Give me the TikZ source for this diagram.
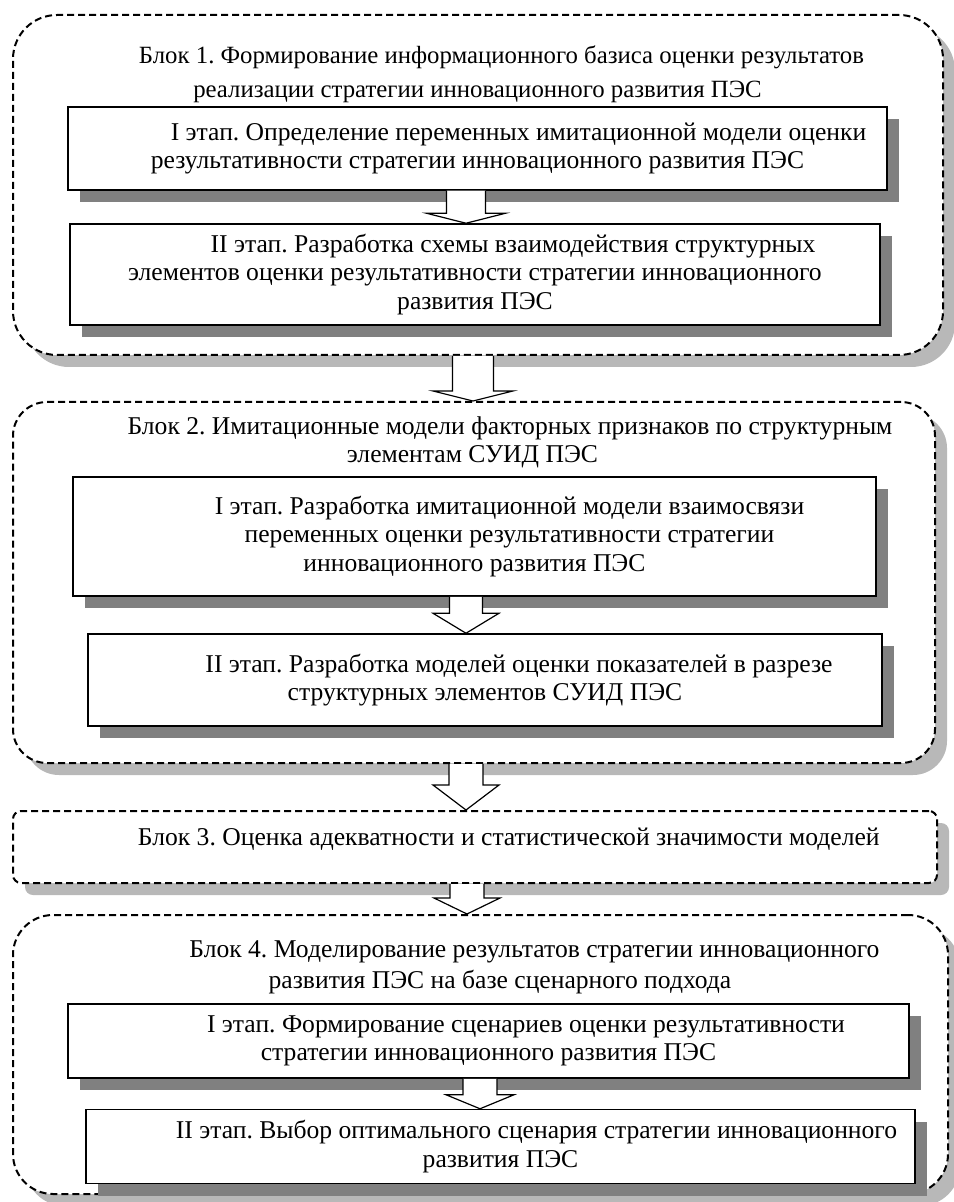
\documentclass[tikz,border=0pt]{standalone}
\usepackage{fontspec}
\setmainfont{Liberation Serif}
\frenchspacing
\usepackage{tikz}
\usetikzlibrary{positioning,shadows,calc}
\definecolor{boxShadow}{HTML}{808080}
\definecolor{blockShadow}{HTML}{B8B8B8}
% hollow block arrow: source, target, axis shift, shaft half width, head half width, head length
\newcommand{\flowarrow}[6]{%
  \path ([xshift=#3]#2.north) coordinate (tip) (tip |- #1.south) coordinate (root);
  \draw[flow] ([xshift=-#4]root) -- ([xshift=-#4,yshift=#6]tip) -- ([xshift=-#5,yshift=#6]tip)
    -- (tip) -- ([xshift=#5,yshift=#6]tip) -- ([xshift=#4,yshift=#6]tip) -- ([xshift=#4]root);
}

\begin{document}
\begin{tikzpicture}[
      x=0.5pt, y=-0.5pt,
      block/.style={draw, fill=white, line width=1pt, dash pattern=on 3.5pt off 2pt,
                    inner sep=0pt,
                    drop shadow={shadow xshift=6pt, shadow yshift=-6pt, fill=blockShadow, opacity=1}},
      stage/.style={draw, fill=white, line width=0.75pt, align=center, inner sep=0pt,
                    font=\fontsize{12.8}{14.25}\selectfont,
                    drop shadow={shadow xshift=6pt, shadow yshift=-6pt, fill=boxShadow, opacity=1}},
      title/.style={align=center, inner sep=0pt},
      flow/.style={draw, fill=white, line width=0.6pt, line join=miter}
    ]
      \useasboundingbox (0,0) rectangle (953,1202);

      % Block 1
      \node[block, rounded corners=22pt, minimum width=465pt, minimum height=170pt] (blk1) at (478, 185) {};
      \node[title, font=\fontsize{12.4}{17}\selectfont] (ttl1) at (477.5, 74) {
        \hspace*{24pt}Блок 1. Формирование информационного базиса оценки результатов \\
        реализации стратегии инновационного развития ПЭС
      };
      \node[stage, minimum width=409.5pt, minimum height=41.5pt] (st1a) at (477.5, 148.5) {
        \hspace*{41pt}I этап. Определение переменных имитационной модели оценки \\
        результативности стратегии инновационного развития ПЭС
      };
      \node[stage, minimum width=405pt, minimum height=50.5pt] (st1b) at (475, 274.5) {
        \hspace*{38pt}II этап. Разработка схемы взаимодействия структурных \\
        элементов оценки результативности стратегии инновационного \\
        развития ПЭС
      };

      % Block 2
      \node[block, rounded corners=17pt, minimum width=461pt, minimum height=180.5pt] (blk2) at (474, 582.5) {};
      \node[title, font=\fontsize{12.8}{14}\selectfont] (ttl2) at (472.5, 442) {
        \hspace*{37.5pt}Блок 2. Имитационные модели факторных признаков по структурным \\
        элементам СУИД ПЭС
      };
      \node[stage, minimum width=401.5pt, minimum height=59.5pt] (st2a) at (474.5, 536.5) {
        \hspace*{35pt}I этап. Разработка имитационной модели взаимосвязи \\
        \hspace*{35pt}переменных оценки результативности стратегии \\
        инновационного развития ПЭС
      };
      \node[stage, minimum width=397pt, minimum height=46pt] (st2b) at (485, 680) {
        \hspace*{34pt}II этап. Разработка моделей оценки показателей в разрезе \\
        структурных элементов СУИД ПЭС
      };

      % Block 3
      \node[block, rounded corners=4pt, minimum width=462pt, minimum height=36pt] (blk3) at (475, 847) {};
      \node[title, anchor=base, font=\fontsize{12.8}{14}\selectfont] (ttl3) at (512, 845) {
        Блок 3. Оценка адекватности и статистической значимости моделей
      };

      % Block 4
      \node[block, rounded corners=20pt, minimum width=467.5pt, minimum height=139.5pt] (blk4) at (480.5, 1054.5) {};
      \node[title, font=\fontsize{12.8}{15.5}\selectfont] (ttl4) at (500, 967.5) {
        \hspace*{34.5pt}Блок 4. Моделирование результатов стратегии инновационного \\
        развития ПЭС на базе сценарного подхода
      };
      \node[stage, minimum width=420.5pt, minimum height=37pt] (st4a) at (488.5, 1041) {
        \hspace*{37.5pt}I этап. Формирование сценариев оценки результативности \\
        стратегии инновационного развития ПЭС
      };
      \node[stage, minimum width=414.5pt, minimum height=37pt] (st4b) at (500.5, 1146.5) {
        \hspace*{36pt}II этап. Выбор оптимального сценария стратегии инновационного \\
        развития ПЭС
      };

      % Arrows
      \flowarrow{st1a}{st1b}{-4.5pt}{9.75pt}{19.75pt}{5pt}
      \flowarrow{blk1}{blk2}{-0.5pt}{10.25pt}{20pt}{5pt}
      \flowarrow{st2a}{st2b}{-9.5pt}{8.25pt}{16.5pt}{10pt}
      \flowarrow{blk2}{blk3}{-4.5pt}{8.5pt}{16.5pt}{12.5pt}
      \flowarrow{blk3}{blk4}{-6.75pt}{8.5pt}{16.5pt}{8pt}
      \flowarrow{st4a}{st4b}{-10.25pt}{8.5pt}{17pt}{7pt}
    \end{tikzpicture}
\end{document}
